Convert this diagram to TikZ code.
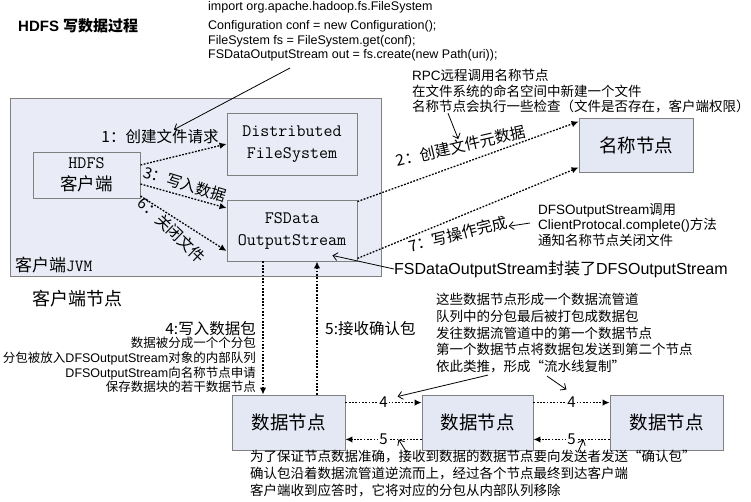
\documentclass[tikz,border=0pt]{standalone}
\usepackage{fontspec}
\setmainfont{Noto Sans CJK SC}
\newfontfamily\arial{Liberation Sans}
\usepackage{tikz}
\usetikzlibrary{shapes,arrows.meta}
\definecolor{jvmfill}{HTML}{E9ECF6}
\definecolor{nodefill}{HTML}{E4E7F4}
\definecolor{boxline}{HTML}{808080}
\newcommand{\fsz}[2]{\fontsize{#1}{#2}\selectfont}

\begin{document}
\begin{tikzpicture}[x=1pt,y=-1pt,
    block_jvm/.style ={rectangle, draw=boxline, fill=jvmfill, line width=0.9pt,
      inner sep=0pt},
    block_inner/.style ={rectangle, draw=boxline, line width=0.9pt,
      font=\ttfamily\fsz{17.5}{22}, align=center, inner sep=0pt},
    block_node/.style ={rectangle, draw=boxline, fill=nodefill, line width=0.9pt,
      font=\fsz{18.5}{22}, inner sep=0pt},
    block_noborder/.style ={rectangle, draw=none, inner sep=0pt},
    line/.style ={draw, line width=1.3pt, dash pattern=on 1.8pt off 1.5pt,
      -{Latex[length=7pt,width=6.5pt]}, shorten >=0pt},
    note/.style ={draw, line width=0.8pt, -{Straight Barb[length=4.5pt,width=8pt]}}]
    \useasboundingbox (0,0) rectangle (751,501);
    % boxes
    \node [block_jvm, minimum width=371pt, minimum height=178pt] (jvm) at (195.5,187) {};
    \node [block_inner, minimum width=130pt, minimum height=62pt] (dfs) at (292,144) {Distributed\\FileSystem};
    \node [block_inner, minimum width=107pt, minimum height=46pt] (client) at (86.5,175) {HDFS\\{\rmfamily 客户端}};
    \node [block_inner, minimum width=130pt, minimum height=61pt] (fsdata) at (292,230.5) {FSData\\OutputStream};
    \node [block_node, minimum width=114pt, minimum height=54pt] (namenode) at (636,145) {名称节点};
    \node [block_node, minimum width=113pt, minimum height=55pt] (dn1) at (288.5,422.5) {数据节点};
    \node [block_node, minimum width=111pt, minimum height=55pt] (dn2) at (477.5,422.5) {数据节点};
    \node [block_node, minimum width=113pt, minimum height=55pt] (dn3) at (666.5,422.5) {数据节点};
    % texts
    \node [block_noborder, anchor=west, font=\arial\bfseries\fsz{15}{18}] (title) at (18,26) {HDFS {\rmfamily\bfseries 写数据过程}};
    \node [block_noborder, anchor=north west, align=left, font=\arial\fsz{12.5}{14.5}] (code) at (208,1.5)
      {import org.apache.hadoop.fs.FileSystem\\[4.5pt]
       Configuration conf = new Configuration();\\
       FileSystem fs = FileSystem.get(conf);\\
       FSDataOutputStream out = fs.create(new Path(uri));};
    \node [block_noborder, font=\fsz{15.5}{18}] (lbl_create) at (160,137) {1：创建文件请求};
    \node [block_noborder, rotate=-17, font=\fsz{15.5}{18}] (lbl_write) at (185,184) {3：写入数据};
    \node [block_noborder, rotate=-44, font=\fsz{15.5}{18}] (lbl_close) at (172,230) {6：关闭文件};
    \node [block_noborder, rotate=13, font=\fsz{15.5}{18}] (lbl_meta) at (461,146) {2：创建文件元数据};
    \node [block_noborder, rotate=14, font=\fsz{15.5}{18}] (lbl_done) at (458,234) {7：写操作完成};
    \node [block_noborder, anchor=west, font=\fsz{17}{20}] (lbl_jvm) at (15,265) {客户端{\ttfamily JVM}};
    \node [block_noborder, anchor=west, font=\fsz{18}{20}] (lbl_host) at (32,299) {客户端节点};
    \node [block_noborder, anchor=north west, align=left, font=\fsz{13.5}{15.5}] (rpc_note) at (412,69)
      {{\arial RPC}远程调用名称节点\\
       在文件系统的命名空间中新建一个文件\\
       名称节点会执行一些检查（文件是否存在，客户端权限）};
    \node [block_noborder, anchor=north west, align=left, font=\fsz{13.5}{15.5}] (complete_note) at (538,203)
      {{\arial DFSOutputStream}调用\\
       {\arial ClientProtocal.complete()}方法\\
       通知名称节点关闭文件};
    \node [block_noborder, anchor=west, font=\fsz{16}{18}] (wrap_note) at (394,269) {{\arial FSDataOutputStream}封装了{\arial DFSOutputStream}};
    \node [block_noborder, anchor=east, font=\fsz{15.5}{18}] (lbl_packet) at (256,329) {4:写入数据包};
    \node [block_noborder, anchor=north east, align=right, font=\fsz{12.5}{14.7}] (packet_note) at (256,337)
      {数据被分成一个个分包\\
       分包被放入{\arial DFSOutputStream}对象的内部队列\\
       {\arial DFSOutputStream}向名称节点申请\\
       保存数据块的若干数据节点};
    \node [block_noborder, anchor=west, font=\fsz{15.5}{18}] (lbl_ack) at (325,329) {5:接收确认包};
    \node [block_noborder, anchor=north west, align=left, font=\fsz{13.5}{16.7}] (pipe_note) at (436,293)
      {这些数据节点形成一个数据流管道\\
       队列中的分包最后被打包成数据包\\
       发往数据流管道中的第一个数据节点\\
       第一个数据节点将数据包发送到第二个节点\\
       依此类推，形成“流水线复制”};
    \node [block_noborder, anchor=north west, align=left, font=\fsz{13.5}{17}] (ack_note) at (250,450)
      {为了保证节点数据准确，接收到数据的数据节点要向发送者发送“确认包”\\
       确认包沿着数据流管道逆流而上，经过各个节点最终到达客户端\\
       客户端收到应答时，它将对应的分包从内部队列移除};
    % free ends of the note arrows
    \coordinate (code_out) at (290,68);
    % connecting nodes with dotted arrows
    \path [line] ([yshift=10pt]client.east) -- (dfs.west);
    \path [line] ([yshift=-9pt]client.east) -- ([yshift=22.5pt]fsdata.west);
    \path [line] ([yshift=-21pt]client.east) -- ([yshift=-20.5pt]fsdata.west);
    \path [line] ([yshift=-2pt]fsdata.north east) -- ([yshift=-4pt]namenode.north west);
    \path [line] ([yshift=3pt]fsdata.south east) -- ([yshift=5pt]namenode.south west);
    \path [line] ([xshift=-29pt]fsdata.south) -- ([xshift=-29pt]fsdata.south |- dn1.north);
    \path [line] ([xshift=25pt]fsdata.south |- dn1.north) -- ([xshift=25pt]fsdata.south);
    \path [line] ([yshift=-8pt]dn1.north east) -- node [fill=white, inner sep=1pt, font=\fsz{15}{18}] (fwd_a) {4} ([yshift=-8pt]dn2.north west);
    \path [line] ([yshift=-8pt]dn2.north east) -- node [fill=white, inner sep=1pt, font=\fsz{15}{18}] (fwd_b) {4} ([yshift=-8pt]dn3.north west);
    \path [line] ([yshift=11pt]dn2.south west) -- node [fill=white, inner sep=1pt, font=\fsz{15}{18}] (back_a) {5} ([yshift=11pt]dn1.south east);
    \path [line] ([yshift=11pt]dn3.south west) -- node [fill=white, inner sep=1pt, font=\fsz{15}{18}] (back_b) {5} ([yshift=11pt]dn2.south east);
    % note arrows
    \path [note] (code_out) -- ([xshift=33pt,yshift=14pt]lbl_create);
    \path [note] ([xshift=36pt]rpc_note.south west) -- ([xshift=-33pt,yshift=5pt]lbl_meta);
    \path [note] ([xshift=-8pt,yshift=-20pt]complete_note.north west) -- ([xshift=45pt,yshift=28pt]lbl_done);
    \path [note] (wrap_note.west) -- ([xshift=-25pt,yshift=6pt]fsdata.south east);
    \path [note] ([xshift=52pt,yshift=-2pt]pipe_note.south west) -- ([xshift=-24pt,yshift=-2pt]dn2.north west);
    \path [note] ([xshift=111pt,yshift=-3pt]pipe_note.south west) -- ([xshift=33pt,yshift=5pt]dn2.north east);
    \path [note] ([xshift=157pt,yshift=-3pt]ack_note.north west) -- ([xshift=-23pt,yshift=11pt]dn2.south west);
    \path [note] ([xshift=328pt,yshift=-2pt]ack_note.north west) -- ([xshift=-26pt,yshift=11pt]dn3.south west);
\end{tikzpicture}
\end{document}
